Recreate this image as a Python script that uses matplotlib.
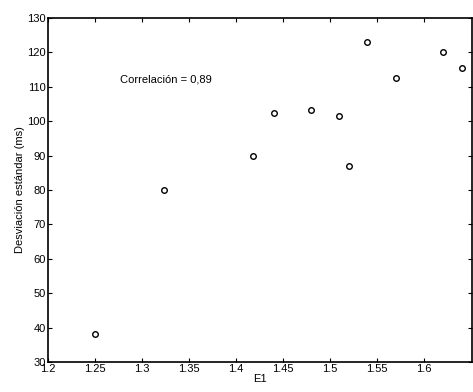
import matplotlib
matplotlib.use('Agg')
import matplotlib.pyplot as plt
import numpy as np

plt.rcParams['font.family'] = ['Liberation Sans', 'DejaVu Sans']

# datos
e1 = [1.25, 1.323, 1.418, 1.44, 1.48, 1.51, 1.52, 1.539, 1.57, 1.62, 1.64]
desv = [38.1, 80.0, 90.0, 102.5, 103.3, 101.4, 87.0, 122.9, 112.6, 120.0, 115.4]
xticks = [1.2, 1.25, 1.3, 1.35, 1.4, 1.45, 1.5, 1.55, 1.6]
yticks = [30, 40, 50, 60, 70, 80, 90, 100, 110, 120, 130]

fig = plt.figure(figsize=(4.73, 3.92), dpi=100)
ax = fig.add_axes([0.1015, 0.0765, 0.8965, 0.8775])

ax.plot(e1, desv, 'o', mfc='none', mec='black', ms=4, mew=1.0)

ax.set_xlim(1.2, 1.651)
ax.set_ylim(30, 130)
ax.set_xticks(xticks)
ax.set_xticklabels([('%g' % t) for t in xticks])
ax.set_yticks(yticks)
ax.tick_params(direction='in', top=True, right=True, labelsize=8, length=3, pad=1.5)
for s in ax.spines.values():
    s.set_linewidth(1.2)

ax.text(1.277, 112, 'Correlación = 0,89', fontsize=8, va='center')
ax.set_xlabel('E1', fontsize=8, labelpad=0)
ax.set_ylabel('Desviación estándar (ms)', fontsize=8, labelpad=2)

fig.savefig('out.png', dpi=100)
